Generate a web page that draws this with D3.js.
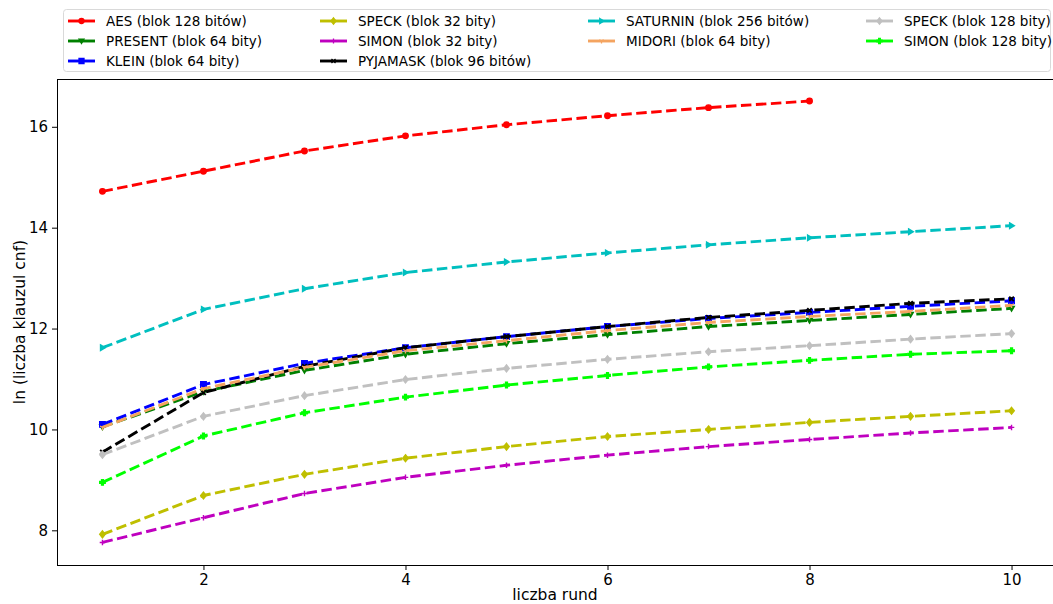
<!DOCTYPE html>
<html>
<head>
<meta charset="utf-8">
<script src="https://cdn.jsdelivr.net/npm/d3@7"></script>
<style>
  html, body { margin: 0; padding: 0; background: #fff; overflow: hidden; }
  svg { display: block; font-family: "DejaVu Sans", sans-serif; }
</style>
</head>
<body>
<svg id="chart" width="1053" height="604"></svg>
<script>
// Rounds on the x axis
const rounds = [1, 2, 3, 4, 5, 6, 7, 8, 9, 10];

// ln(number of CNF clauses) per cipher and round count
const aes       = [14.72, 15.12, 15.52, 15.82, 16.04, 16.22, 16.38, 16.51];
const present   = [10.05, 10.75, 11.17, 11.49, 11.70, 11.88, 12.04, 12.16, 12.28, 12.40];
const klein     = [10.10, 10.89, 11.31, 11.62, 11.84, 12.04, 12.20, 12.32, 12.44, 12.55];
const speck32   = [7.92, 8.69, 9.11, 9.43, 9.66, 9.86, 10.00, 10.14, 10.26, 10.37];
const simon32   = [7.76, 8.25, 8.73, 9.05, 9.29, 9.49, 9.66, 9.80, 9.93, 10.04];
const pyjamask  = [9.55, 10.73, 11.25, 11.62, 11.84, 12.04, 12.22, 12.36, 12.50, 12.59];
const saturnin  = [11.62, 12.38, 12.79, 13.11, 13.32, 13.50, 13.66, 13.80, 13.92, 14.04];
const midori    = [10.04, 10.81, 11.23, 11.56, 11.76, 11.96, 12.12, 12.24, 12.34, 12.46];
const speck128  = [9.50, 10.26, 10.67, 10.99, 11.21, 11.39, 11.54, 11.66, 11.79, 11.90];
const simon128  = [8.95, 9.87, 10.33, 10.64, 10.88, 11.07, 11.24, 11.37, 11.49, 11.56];

const seriesNames = [
  "AES (blok 128 bitów)", "PRESENT (blok 64 bity)", "KLEIN (blok 64 bity)",
  "SPECK (blok 32 bity)", "SIMON (blok 32 bity)", "PYJAMASK (blok 96 bitów)",
  "SATURNIN (blok 256 bitów)", "MIDORI (blok 64 bity)",
  "SPECK (blok 128 bity)", "SIMON (blok 128 bity)"
];
const seriesValues = [aes, present, klein, speck32, simon32, pyjamask, saturnin, midori, speck128, simon128];
const seriesColors = ["#ff0000", "#008000", "#0000ff", "#bfbf00", "#bf00bf", "#000000", "#00bfbf", "#f4a460", "#c0c0c0", "#00ff00"];
const seriesMarkers = ["circle", "triangleDown", "square", "diamond", "plus", "cross", "triangleRight", "tri", "diamond", "plusFilled"];

const yTicks = [8, 10, 12, 14, 16];
const xTicks = [2, 4, 6, 8, 10];
const xLabel = "liczba rund";
const yLabel = "ln (liczba klauzul cnf)";

const svg = d3.select("#chart");
const plot = { left: 57, top: 79, right: 1057, bottom: 565 };

const x = d3.scaleLinear().domain([0.55, 10.45]).range([plot.left, plot.right]);
const y = d3.scaleLinear().domain([7.3125, 16.9475]).range([plot.bottom, plot.top]);

// Axes
const xAxis = d3.axisBottom(x).tickValues(xTicks).tickFormat(d3.format("d")).tickSize(5).tickPadding(4);
const yAxis = d3.axisLeft(y).tickValues(yTicks).tickFormat(d3.format("d")).tickSize(5).tickPadding(4);

const gx = svg.append("g").attr("transform", `translate(0,${plot.bottom})`).call(xAxis);
const gy = svg.append("g").attr("transform", `translate(${plot.left},0)`).call(yAxis);
[gx, gy].forEach(g => {
  g.select(".domain").remove();
  g.selectAll("text").attr("font-size", 15).attr("fill", "#000").attr("font-family", "DejaVu Sans, sans-serif");
  g.selectAll("line").attr("stroke", "#000").attr("stroke-width", 1);
});

// Frame
svg.append("rect")
  .attr("x", plot.left + 0.5).attr("y", plot.top + 0.5)
  .attr("width", plot.right - plot.left).attr("height", plot.bottom - plot.top)
  .attr("fill", "none").attr("stroke", "#000").attr("stroke-width", 1);

// Axis titles
svg.append("text").attr("x", (plot.left + 1053) / 2).attr("y", 600)
  .attr("text-anchor", "middle").attr("font-size", 15.5).text(xLabel);
svg.append("text")
  .attr("transform", `translate(25,${(plot.top + plot.bottom) / 2}) rotate(-90)`)
  .attr("text-anchor", "middle").attr("font-size", 15.5).text(yLabel);

// Marker shapes
function markerPath(kind, s) {
  const r = s / 2;
  switch (kind) {
    case "circle": return d3.symbol(d3.symbolCircle, Math.PI * r * r)();
    case "square": return `M${-r},${-r}H${r}V${r}H${-r}Z`;
    case "diamond": return `M0,${-r * 1.25}L${r},0L0,${r * 1.25}L${-r},0Z`;
    case "triangleDown": return `M${-r},${-r * 0.7}L${r},${-r * 0.7}L0,${r}Z`;
    case "triangleRight": return `M${-r * 0.7},${-r}L${r},0L${-r * 0.7},${r}Z`;
    case "plus": return `M${-r},0H${r}M0,${-r}V${r}`;
    case "tri": return `M0,0V${r}M0,0L${-r * 0.87},${-r * 0.5}M0,0L${r * 0.87},${-r * 0.5}`;
    case "plusFilled": { const t = r / 3; return `M${-t},${-r}H${t}V${-t}H${r}V${t}H${t}V${r}H${-t}V${t}H${-r}V${-t}H${-t}Z`; }
    case "cross": return d3.symbol(d3.symbolX, s * s * 0.5)();
  }
}
const strokeOnly = new Set(["plus", "tri"]);

const line = d3.line().x((d, i) => x(rounds[i])).y(d => y(d));

svg.append("clipPath").attr("id", "plotClip").append("rect")
  .attr("x", plot.left).attr("y", plot.top).attr("width", plot.right - plot.left).attr("height", plot.bottom - plot.top);

const plotG = svg.append("g").attr("clip-path", "url(#plotClip)");

seriesValues.forEach((vals, k) => {
  const g = plotG.append("g");
  const c = seriesColors[k];
  g.append("path").datum(vals).attr("d", line)
    .attr("fill", "none").attr("stroke", c).attr("stroke-width", 2.9)
    .attr("stroke-dasharray", "10.5,4.5");
  g.selectAll("path.m").data(vals).join("path").attr("class", "m")
    .attr("transform", (d, i) => `translate(${x(rounds[i])},${y(d)})`)
    .attr("d", markerPath(seriesMarkers[k], 5.5))
    .attr("fill", strokeOnly.has(seriesMarkers[k]) ? "none" : c)
    .attr("stroke", c)
    .attr("stroke-width", seriesMarkers[k] === "cross" ? 1.8 : 1.4);
});

// Legend
const legend = svg.append("g");
legend.append("rect").attr("x", 63.5).attr("y", 9.5).attr("width", 987).attr("height", 62)
  .attr("rx", 3).attr("fill", "#fff").attr("stroke", "#d9d9d9").attr("stroke-width", 1);

const colX = [68, 320, 588, 866];
const rowY = [21, 41, 61];
const perCol = [3, 3, 2, 2];
let idx = 0;
perCol.forEach((n, col) => {
  for (let r = 0; r < n; r++, idx++) {
    const k = idx;
    const it = legend.append("g").attr("transform", `translate(${colX[col]},${rowY[r]})`);
    it.append("line").attr("x1", 0).attr("x2", 27).attr("y1", 0).attr("y2", 0)
      .attr("stroke", seriesColors[k]).attr("stroke-width", 2.9);
    it.append("path").attr("transform", "translate(13.5,0)")
      .attr("d", markerPath(seriesMarkers[k], 5))
      .attr("fill", strokeOnly.has(seriesMarkers[k]) ? "none" : seriesColors[k])
      .attr("stroke", seriesColors[k]).attr("stroke-width", 1.3);
    it.append("text").attr("x", 38).attr("y", 5).attr("font-size", 13.5).text(seriesNames[k]);
  }
});
</script>
</body>
</html>
